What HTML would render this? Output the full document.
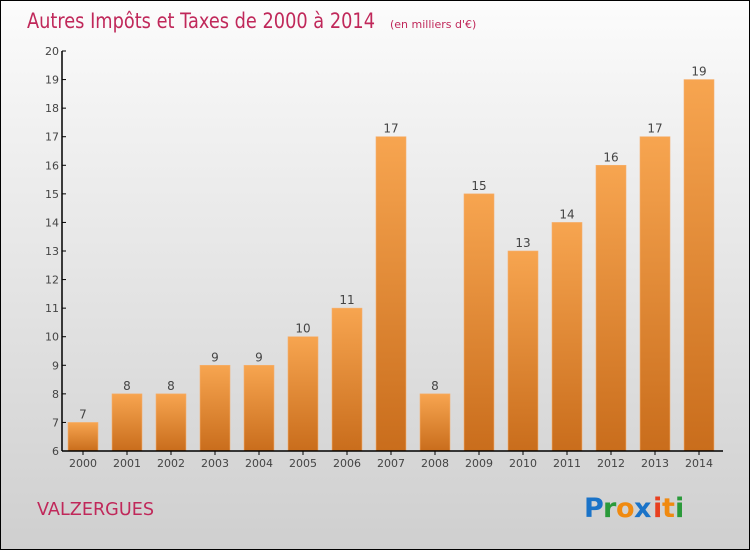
<!DOCTYPE html>
<html><head><meta charset="utf-8"><style>
body{margin:0}
#c{width:748px;height:548px;border:1px solid #000;background:linear-gradient(#fcfcfc,#f2f2f2 20%,#cfcfcf);position:relative;font-family:"DejaVu Sans","Liberation Sans",sans-serif;overflow:hidden}
</style></head><body>
<div id="c">
<svg width="748" height="548">
<defs><linearGradient id="g" x1="0" y1="0" x2="0" y2="1"><stop offset="0" stop-color="#f7a550"/><stop offset="1" stop-color="#c96d1c"/></linearGradient></defs>
<text x="26" y="27" font-size="21" fill="#c0285a" font-weight="200" style="font-family:'DejaVu Sans',sans-serif;font-weight:normal" textLength="348" lengthAdjust="spacingAndGlyphs">Autres Impôts et Taxes de 2000 à 2014</text>
<text x="389" y="27" font-size="11" fill="#c0285a">(en milliers d'€)</text>
<g id="plot"></g>
<text x="36" y="514" font-size="18" fill="#c0285a" textLength="117" lengthAdjust="spacingAndGlyphs">VALZERGUES</text>
<g font-size="27" font-weight="bold" font-family="'DejaVu Sans',sans-serif">
<text x="583" y="516" fill="#1a73c8">P</text><text x="602" y="516" fill="#2a9a3a">r</text><text x="615" y="516" fill="#f08a10">o</text><text x="633" y="516" fill="#1a73c8">x</text><text x="652" y="516" fill="#e84020">i</text><text x="661" y="516" fill="#f08a10">t</text><text x="674" y="516" fill="#2a9a3a">i</text>
</g>
</svg>
</div>
<script>
const years=["2000","2001","2002","2003","2004","2005","2006","2007","2008","2009","2010","2011","2012","2013","2014"];
const values=[7,8,8,9,9,10,11,17,8,15,13,14,16,17,19];
const ticks=[6,7,8,9,10,11,12,13,14,15,16,17,18,19,20];
const NS="http://www.w3.org/2000/svg";
const g=document.getElementById('plot');
const y0=450,y1=50,vmin=6,vmax=20;
function yS(v){return y0-(v-vmin)/(vmax-vmin)*(y0-y1);}
function xS(i){return 67+44*i;}
function mk(t,a,txt){const e=document.createElementNS(NS,t);for(const k in a)e.setAttribute(k,a[k]);if(txt!=null)e.textContent=txt;g.appendChild(e);return e;}
values.forEach((v,i)=>{
 const r=mk('rect',{x:xS(i),y:yS(v),width:30,height:y0-yS(v),fill:'url(#g)',stroke:'#f5b070','stroke-width':0.6});
 
 
 const l=mk('text',{x:xS(i)+15,y:yS(v)-4,'font-size':12,fill:'#444','text-anchor':'middle'},String(v));
 
 
 const xl=mk('text',{x:xS(i)+15,y:466,'font-size':11,fill:'#444','text-anchor':'middle'},years[i]);
 
 
 const tk=mk('line',{x1:xS(i)+15,x2:xS(i)+15,y1:450,y2:454,stroke:'#000'});
 
 
});
ticks.forEach(t=>{
 const l=mk('line',{x1:61,x2:65,y1:yS(t),y2:yS(t),stroke:'#000'});
 
 
 const tx=mk('text',{x:58,y:yS(t)+4,'font-size':11,fill:'#444','text-anchor':'end'},String(t));
 
 
});
const ya=mk('line',{x1:61,x2:61,y1:50,y2:450,stroke:'#000','stroke-width':1.5});


const xa=mk('line',{x1:61,x2:722,y1:450,y2:450,stroke:'#000','stroke-width':1.5});


</script>
</body></html>
